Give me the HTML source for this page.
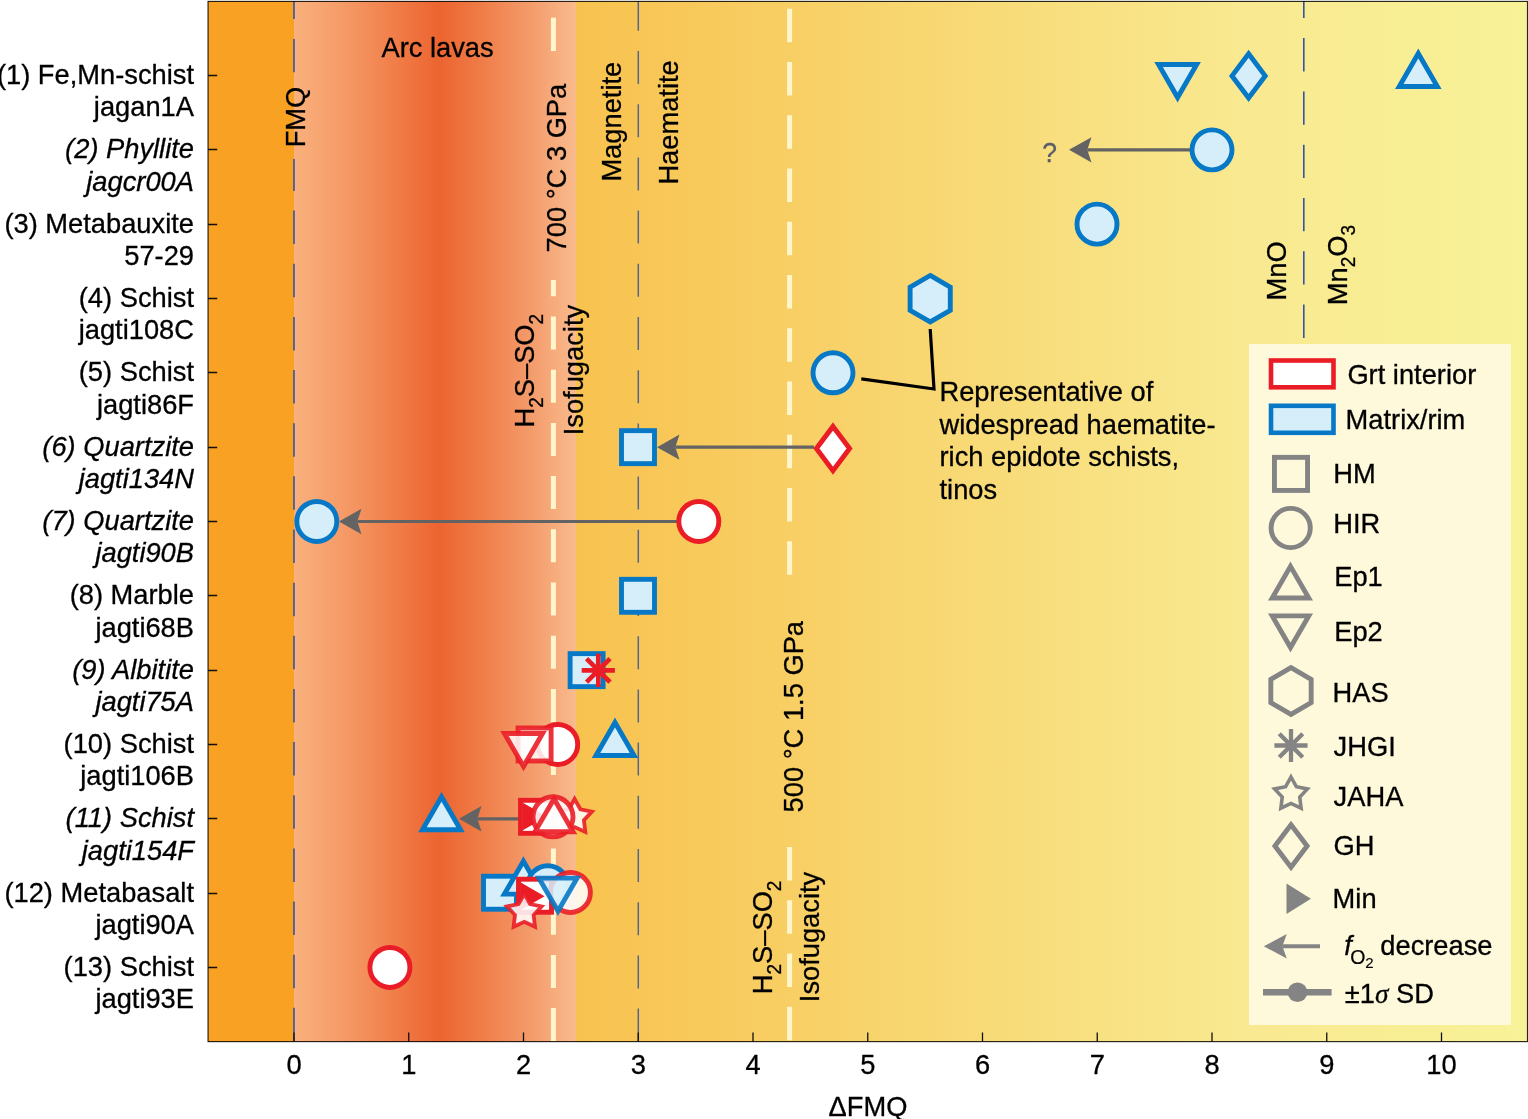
<!DOCTYPE html>
<html><head><meta charset="utf-8"><title>fO2 chart</title>
<style>html,body{margin:0;padding:0;background:#fff;}svg{display:block;}</style>
</head><body>
<svg width="1528" height="1119" viewBox="0 0 1528 1119" font-family="'Liberation Sans', Arial, Helvetica, sans-serif">
<defs>
<linearGradient id="gArc" x1="294" y1="0" x2="576" y2="0" gradientUnits="userSpaceOnUse">
<stop offset="0" stop-color="#f9b17d"/>
<stop offset="0.18" stop-color="#f59a66"/>
<stop offset="0.38" stop-color="#f07a45"/>
<stop offset="0.515" stop-color="#ec6430"/>
<stop offset="0.65" stop-color="#ef7a45"/>
<stop offset="0.85" stop-color="#f49d6d"/>
<stop offset="1" stop-color="#f9bb8d"/>
</linearGradient>
<linearGradient id="gY" x1="576" y1="0" x2="1527" y2="0" gradientUnits="userSpaceOnUse">
<stop offset="0" stop-color="#f8c24f"/>
<stop offset="0.35" stop-color="#f8d670"/>
<stop offset="0.7" stop-color="#f9e990"/>
<stop offset="1" stop-color="#f8f298"/>
</linearGradient>
</defs>
<rect width="1528" height="1119" fill="#fff"/>
<rect x="208" y="1" width="86" height="1041" fill="#f8a123"/>
<rect x="294" y="1" width="282" height="1041" fill="url(#gArc)"/>
<rect x="576" y="1" width="951.5" height="1041" fill="url(#gY)"/>
<path d="M294 1V19M294 39V72.3" stroke="#3253a8" stroke-width="1.6" fill="none"/>
<path d="M294 159V190.95M294 210.6V244.1M294 263.75V297.25M294 316.9V350.4M294 370.05V403.55M294 423.2V456.7M294 476.35V509.85M294 529.5V563M294 582.65V616.15M294 635.8V669.3M294 688.95V722.45M294 742.1V775.6M294 795.25V828.75M294 848.4V881.9M294 901.55V935.05M294 954.7V988.2M294 1007.85V1041" stroke="#3253a8" stroke-width="1.6" fill="none"/>
<path d="M638.3 1V30.8M638.3 51V84M638.3 104.2V137.2M638.3 157.4V190.4M638.3 210.6V243.6M638.3 263.8V296.8M638.3 317V350M638.3 370.2V403.2M638.3 423.4V456.4M638.3 476.6V509.6M638.3 529.8V562.8M638.3 583V616M638.3 636.2V669.2M638.3 689.4V722.4M638.3 742.6V775.6M638.3 795.8V828.8M638.3 849V882M638.3 902.2V935.2M638.3 955.4V988.4M638.3 1008.6V1041" stroke="#56658f" stroke-width="1.5" fill="none"/>
<path d="M1303.8 1V18.1M1303.8 38.1V71.4M1303.8 91.4V124.7M1303.8 144.7V178M1303.8 198V231.3M1303.8 251.3V284.6M1303.8 304.6V337.9" stroke="#3253a8" stroke-width="1.6" fill="none"/>
<path d="M553.4 17.7V51" stroke="#fff6cc" stroke-width="5" fill="none"/>
<path d="M553.4 280V296.3M553.4 316.5V349.5M553.4 369.7V402.7M553.4 422.9V455.9M553.4 476.1V509.1M553.4 529.3V562.3M553.4 582.5V615.5M553.4 635.7V668.7M553.4 688.9V721.9M553.4 742.1V775.1M553.4 795.3V828.3M553.4 848.5V881.5M553.4 901.7V934.7M553.4 954.9V987.9M553.4 1008.1V1041" stroke="#fff6cc" stroke-width="5" fill="none"/>
<path d="M789.6 8.8V42.3M789.6 62.05V95.55M789.6 115.3V148.8M789.6 168.55V202.05M789.6 221.8V255.3M789.6 275.05V308.55M789.6 328.3V361.8M789.6 381.55V415.05M789.6 434.8V468.3M789.6 488.05V521.55M789.6 541.3V574.8" stroke="#fff6cc" stroke-width="5" fill="none"/>
<path d="M789.6 846.9V880.4M789.6 900.15V933.65M789.6 953.4V986.9M789.6 1006.65V1040.15" stroke="#fff6cc" stroke-width="5" fill="none"/>
<text x="305" y="147.3" font-size="27.3" text-anchor="start" transform="rotate(-90 305 147.3) translate(305 147.3) scale(1 1.035) translate(-305 -147.3)" fill="#000" stroke="#000" stroke-width="0.3">FMQ</text>
<text x="565.9" y="252.4" font-size="27.3" text-anchor="start" transform="rotate(-90 565.9 252.4) translate(565.9 252.4) scale(1 1.035) translate(-565.9 -252.4)" fill="#000" stroke="#000" stroke-width="0.3">700 °C 3 GPa</text>
<text x="621" y="181.6" font-size="27.3" text-anchor="start" transform="rotate(-90 621 181.6) translate(621 181.6) scale(1 1.035) translate(-621 -181.6)" fill="#000" stroke="#000" stroke-width="0.3">Magnetite</text>
<text x="678" y="184.6" font-size="27.3" text-anchor="start" transform="rotate(-90 678 184.6) translate(678 184.6) scale(1 1.035) translate(-678 -184.6)" fill="#000" stroke="#000" stroke-width="0.3">Haematite</text>
<text x="1286" y="300.5" font-size="27.3" text-anchor="start" transform="rotate(-90 1286 300.5) translate(1286 300.5) scale(1 1.035) translate(-1286 -300.5)" fill="#000" stroke="#000" stroke-width="0.3">MnO</text>
<text x="1346.8" y="305.2" font-size="27.3" text-anchor="start" transform="rotate(-90 1346.8 305.2) translate(1346.8 305.2) scale(1 1.035) translate(-1346.8 -305.2)" fill="#000" stroke="#000" stroke-width="0.3">Mn<tspan font-size="19" dy="8">2</tspan><tspan dy="-8">O</tspan><tspan font-size="19" dy="8">3</tspan></text>
<text x="534.3" y="427.5" font-size="27.3" text-anchor="start" transform="rotate(-90 534.3 427.5) translate(534.3 427.5) scale(1 1.035) translate(-534.3 -427.5)" fill="#000" stroke="#000" stroke-width="0.3">H<tspan font-size="19" dy="8">2</tspan><tspan dy="-8">S–SO</tspan><tspan font-size="19" dy="8">2</tspan></text>
<text x="582.7" y="435.3" font-size="27.3" text-anchor="start" transform="rotate(-90 582.7 435.3) translate(582.7 435.3) scale(1 1.035) translate(-582.7 -435.3)" fill="#000" stroke="#000" stroke-width="0.3">Isofugacity</text>
<text x="803.2" y="812.4" font-size="27.3" text-anchor="start" transform="rotate(-90 803.2 812.4) translate(803.2 812.4) scale(1 1.035) translate(-803.2 -812.4)" fill="#000" stroke="#000" stroke-width="0.3">500 °C 1.5 GPa</text>
<text x="772.3" y="994.2" font-size="27.3" text-anchor="start" transform="rotate(-90 772.3 994.2) translate(772.3 994.2) scale(1 1.035) translate(-772.3 -994.2)" fill="#000" stroke="#000" stroke-width="0.3">H<tspan font-size="19" dy="8">2</tspan><tspan dy="-8">S–SO</tspan><tspan font-size="19" dy="8">2</tspan></text>
<text x="819.2" y="1002.2" font-size="27.3" text-anchor="start" transform="rotate(-90 819.2 1002.2) translate(819.2 1002.2) scale(1 1.035) translate(-819.2 -1002.2)" fill="#000" stroke="#000" stroke-width="0.3">Isofugacity</text>
<text x="381.5" y="57.5" font-size="27.3" text-anchor="start" transform="translate(381.5 57.5) scale(1 1.035) translate(-381.5 -57.5)" fill="#000" stroke="#000" stroke-width="0.3">Arc lavas</text>
<polyline points="861.3,378.8 934,389 930.2,329" fill="none" stroke="#000" stroke-width="3.2" stroke-linejoin="miter"/>
<text x="939.5" y="401.5" font-size="27.3" text-anchor="start" transform="translate(939.5 401.5) scale(1 1.035) translate(-939.5 -401.5)" fill="#000" stroke="#000" stroke-width="0.3">Representative of</text>
<text x="939.5" y="433.9" font-size="27.3" text-anchor="start" transform="translate(939.5 433.9) scale(1 1.035) translate(-939.5 -433.9)" fill="#000" stroke="#000" stroke-width="0.3">widespread haematite-</text>
<text x="939.5" y="466.3" font-size="27.3" text-anchor="start" transform="translate(939.5 466.3) scale(1 1.035) translate(-939.5 -466.3)" fill="#000" stroke="#000" stroke-width="0.3">rich epidote schists,</text>
<text x="939.5" y="498.7" font-size="27.3" text-anchor="start" transform="translate(939.5 498.7) scale(1 1.035) translate(-939.5 -498.7)" fill="#000" stroke="#000" stroke-width="0.3">tinos</text>
<polygon points="1177.6,97.5 1196.65,64.5 1158.55,64.5" fill="#d5eefa" stroke="#0678c6" stroke-width="4.9" stroke-linejoin="miter" stroke-miterlimit="10"/>
<polygon points="1248.6,53.8 1265.2,75.9 1248.6,98 1232,75.9" fill="#d5eefa" stroke="#0678c6" stroke-width="4.9" stroke-linejoin="miter" stroke-miterlimit="10"/>
<polygon points="1418.3,53.5 1437.35,86.5 1399.25,86.5" fill="#d5eefa" stroke="#0678c6" stroke-width="4.9" stroke-linejoin="miter" stroke-miterlimit="10"/>
<line x1="1190" y1="149.83" x2="1087.3" y2="149.83" stroke="#636363" stroke-width="3.2"/>
<polygon points="1069,149.83 1091.5,137.13 1087.3,149.83 1091.5,162.53" fill="#636363"/>
<text x="1049.6" y="161.8" font-size="26.5" text-anchor="middle" transform="translate(1049.6 161.8) scale(1 1.035) translate(-1049.6 -161.8)" fill="#585c66" stroke="#585c66" stroke-width="0.29">?</text>
<circle cx="1212" cy="149.83" r="20" fill="#d5eefa" stroke="#0678c6" stroke-width="4.9" stroke-linejoin="miter" stroke-miterlimit="10"/>
<circle cx="1097" cy="224.16" r="20" fill="#d5eefa" stroke="#0678c6" stroke-width="4.9" stroke-linejoin="miter" stroke-miterlimit="10"/>
<polygon points="930.2,275.49 950.29,287.09 950.29,310.29 930.2,321.89 910.11,310.29 910.11,287.09" fill="#d5eefa" stroke="#0678c6" stroke-width="4.9" stroke-linejoin="miter" stroke-miterlimit="10"/>
<circle cx="833" cy="372.82" r="20" fill="#d5eefa" stroke="#0678c6" stroke-width="4.9" stroke-linejoin="miter" stroke-miterlimit="10"/>
<line x1="814" y1="447.15" x2="675.3" y2="447.15" stroke="#636363" stroke-width="3.2"/>
<polygon points="657,447.15 679.5,434.45 675.3,447.15 679.5,459.85" fill="#636363"/>
<rect x="621.5" y="430.65" width="33" height="33" fill="#d5eefa" stroke="#0678c6" stroke-width="4.9" stroke-linejoin="miter" stroke-miterlimit="10"/>
<polygon points="833,426.45 849.6,448.55 833,470.65 816.4,448.55" fill="#ffffff" stroke="#ea1d26" stroke-width="4.9" stroke-linejoin="miter" stroke-miterlimit="10"/>
<line x1="677" y1="521.48" x2="357.3" y2="521.48" stroke="#636363" stroke-width="3.2"/>
<polygon points="339,521.48 361.5,508.78 357.3,521.48 361.5,534.18" fill="#636363"/>
<circle cx="316.8" cy="521.48" r="20" fill="#d5eefa" stroke="#0678c6" stroke-width="4.9" stroke-linejoin="miter" stroke-miterlimit="10"/>
<circle cx="698.8" cy="521.48" r="20" fill="#ffffff" stroke="#ea1d26" stroke-width="4.9" stroke-linejoin="miter" stroke-miterlimit="10"/>
<rect x="621.5" y="579.31" width="33" height="33" fill="#d5eefa" stroke="#0678c6" stroke-width="4.9" stroke-linejoin="miter" stroke-miterlimit="10"/>
<rect x="570.1" y="653.64" width="33" height="33" fill="#d5eefa" stroke="#0678c6" stroke-width="4.9" stroke-linejoin="miter" stroke-miterlimit="10"/>
<path d="M581.7 670.34L614.9 670.34M586.56 658.6L610.04 682.08M598.3 653.74L598.3 686.94M610.04 658.6L586.56 682.08" stroke="#ea1d26" stroke-width="4.7" fill="none"/>
<circle cx="557.7" cy="744.47" r="20" fill="#ffffff" stroke="#ea1d26" stroke-width="4.9" stroke-linejoin="miter" stroke-miterlimit="10"/>
<rect x="518.1" y="727.97" width="33" height="33" fill="#ffffff" stroke="#ea1d26" stroke-width="4.9" stroke-linejoin="miter" stroke-miterlimit="10" fill-opacity="0.86" stroke-opacity="0.9"/>
<polygon points="523.5,766.47 542.55,733.47 504.45,733.47" fill="#ffffff" stroke="#ea1d26" stroke-width="4.9" stroke-linejoin="miter" stroke-miterlimit="10" fill-opacity="0.86" stroke-opacity="0.9"/>
<polygon points="615,722.47 634.05,755.47 595.95,755.47" fill="#d5eefa" stroke="#0678c6" stroke-width="4.9" stroke-linejoin="miter" stroke-miterlimit="10"/>
<line x1="518" y1="818.8" x2="477.3" y2="818.8" stroke="#636363" stroke-width="3.2"/>
<polygon points="459,818.8 481.5,806.1 477.3,818.8 481.5,831.5" fill="#636363"/>
<polygon points="441.5,796.8 460.55,829.8 422.45,829.8" fill="#d5eefa" stroke="#0678c6" stroke-width="4.9" stroke-linejoin="miter" stroke-miterlimit="10"/>
<rect x="520.5" y="800.3" width="33" height="33" fill="#ffffff" stroke="#ea1d26" stroke-width="4.9" stroke-linejoin="miter" stroke-miterlimit="10"/>
<polygon points="522.9,802.85 546.72,816.6 522.9,830.35" fill="#ea1d26"/>
<polygon points="574.6,799 580.36,809.27 591.91,811.58 583.92,820.23 585.3,831.92 574.6,827 563.9,831.92 565.28,820.23 557.29,811.58 568.84,809.27" fill="#ffffff" stroke="#ea1d26" stroke-width="3.8" stroke-linejoin="miter" stroke-miterlimit="10" fill-opacity="0.86" stroke-opacity="0.9"/>
<circle cx="553" cy="816.8" r="20" fill="#ffffff" stroke="#ea1d26" stroke-width="4.9" stroke-linejoin="miter" stroke-miterlimit="10" fill-opacity="0.86" stroke-opacity="0.9"/>
<polygon points="554,798.8 573.05,831.8 534.95,831.8" fill="#ffffff" stroke="#ea1d26" stroke-width="4.9" stroke-linejoin="miter" stroke-miterlimit="10" fill-opacity="0.86" stroke-opacity="0.9"/>
<rect x="483.5" y="876.23" width="33" height="33" fill="#d5eefa" stroke="#0678c6" stroke-width="4.9" stroke-linejoin="miter" stroke-miterlimit="10"/>
<polygon points="523.4,861.13 542.45,894.13 504.35,894.13" fill="#d5eefa" stroke="#0678c6" stroke-width="4.9" stroke-linejoin="miter" stroke-miterlimit="10"/>
<circle cx="547.8" cy="885.73" r="20" fill="#d5eefa" stroke="#0678c6" stroke-width="4.9" stroke-linejoin="miter" stroke-miterlimit="10"/>
<rect x="518.5" y="879.23" width="33" height="33" fill="#ffffff" stroke="#ea1d26" stroke-width="4.9" stroke-linejoin="miter" stroke-miterlimit="10"/>
<polygon points="520.8,882.38 544.62,896.13 520.8,909.88" fill="#ea1d26"/>
<polygon points="524.3,893.83 530.06,904.1 541.61,906.41 533.62,915.06 535,926.75 524.3,921.83 513.6,926.75 514.98,915.06 506.99,906.41 518.54,904.1" fill="#ffffff" stroke="#ea1d26" stroke-width="3.8" stroke-linejoin="miter" stroke-miterlimit="10" fill-opacity="0.86" stroke-opacity="0.9"/>
<circle cx="570.4" cy="892.43" r="20" fill="#ffffff" stroke="#ea1d26" stroke-width="4.9" stroke-linejoin="miter" stroke-miterlimit="10" fill-opacity="0.86" stroke-opacity="0.9"/>
<polygon points="558,911.13 577.05,878.13 538.95,878.13" fill="#d5eefa" stroke="#0678c6" stroke-width="4.9" stroke-linejoin="miter" stroke-miterlimit="10" fill-opacity="0.86" stroke-opacity="0.9"/>
<circle cx="389.9" cy="967.46" r="20" fill="#ffffff" stroke="#ea1d26" stroke-width="4.9" stroke-linejoin="miter" stroke-miterlimit="10"/>
<rect x="1249" y="344" width="262" height="681" fill="#fef9db"/>
<rect x="1271" y="360.5" width="62.5" height="26.8" fill="#fff" stroke="#ea1d26" stroke-width="4.6"/>
<rect x="1271" y="405.8" width="62.5" height="27" fill="#d5eefa" stroke="#0678c6" stroke-width="4.6"/>
<text x="1347.4" y="383.6" font-size="27.3" text-anchor="start" transform="translate(1347.4 383.6) scale(1 1.035) translate(-1347.4 -383.6)" fill="#000" stroke="#000" stroke-width="0.3">Grt interior</text>
<text x="1345.6" y="428.6" font-size="27.3" text-anchor="start" transform="translate(1345.6 428.6) scale(1 1.035) translate(-1345.6 -428.6)" fill="#000" stroke="#000" stroke-width="0.3">Matrix/rim</text>
<rect x="1274.45" y="457.35" width="33.1" height="33.1" fill="none" stroke="#848484" stroke-width="4.9" stroke-linejoin="miter" stroke-miterlimit="10"/>
<circle cx="1290.7" cy="528" r="19.6" fill="none" stroke="#848484" stroke-width="4.9" stroke-linejoin="miter" stroke-miterlimit="10"/>
<polygon points="1290.5,566.4 1308.77,598.05 1272.23,598.05" fill="none" stroke="#848484" stroke-width="4.9" stroke-linejoin="miter" stroke-miterlimit="10"/>
<polygon points="1290.5,647.5 1308.77,615.85 1272.23,615.85" fill="none" stroke="#848484" stroke-width="4.9" stroke-linejoin="miter" stroke-miterlimit="10"/>
<polygon points="1291,667.7 1311.18,679.35 1311.18,702.65 1291,714.3 1270.82,702.65 1270.82,679.35" fill="none" stroke="#848484" stroke-width="4.9" stroke-linejoin="miter" stroke-miterlimit="10"/>
<path d="M1274.4 745.5L1307.6 745.5M1279.26 733.76L1302.74 757.24M1291 728.9L1291 762.1M1302.74 733.76L1279.26 757.24" stroke="#848484" stroke-width="4.3" fill="none"/>
<polygon points="1291,777 1296.41,786.76 1307.36,788.88 1299.75,797.04 1301.11,808.12 1291,803.4 1280.89,808.12 1282.25,797.04 1274.64,788.88 1285.59,786.76" fill="none" stroke="#848484" stroke-width="3.6" stroke-linejoin="miter" stroke-miterlimit="10"/>
<polygon points="1291,824.7 1307.1,846 1291,867.3 1274.9,846" fill="none" stroke="#848484" stroke-width="4.9" stroke-linejoin="miter" stroke-miterlimit="10"/>
<polygon points="1286.5,883.5 1310.9,898.7 1286.5,913.9" fill="#848484"/>
<line x1="1320" y1="946.3" x2="1282.4" y2="946.3" stroke="#848484" stroke-width="4"/>
<polygon points="1263.8,946.3 1286.8,934.1 1282.4,946.3 1286.8,958.5" fill="#848484"/>
<line x1="1263" y1="992.2" x2="1331.6" y2="992.2" stroke="#848484" stroke-width="6.4"/>
<circle cx="1297.5" cy="992.2" r="9.8" fill="#848484"/>
<text x="1333.2" y="482.7" font-size="27.3" text-anchor="start" transform="translate(1333.2 482.7) scale(1 1.035) translate(-1333.2 -482.7)" fill="#000" stroke="#000" stroke-width="0.3">HM</text>
<text x="1333.2" y="532.7" font-size="27.3" text-anchor="start" transform="translate(1333.2 532.7) scale(1 1.035) translate(-1333.2 -532.7)" fill="#000" stroke="#000" stroke-width="0.3">HIR</text>
<text x="1334.2" y="586.3" font-size="27.3" text-anchor="start" transform="translate(1334.2 586.3) scale(1 1.035) translate(-1334.2 -586.3)" fill="#000" stroke="#000" stroke-width="0.3">Ep1</text>
<text x="1334.2" y="640.9" font-size="27.3" text-anchor="start" transform="translate(1334.2 640.9) scale(1 1.035) translate(-1334.2 -640.9)" fill="#000" stroke="#000" stroke-width="0.3">Ep2</text>
<text x="1332.6" y="701.6" font-size="27.3" text-anchor="start" transform="translate(1332.6 701.6) scale(1 1.035) translate(-1332.6 -701.6)" fill="#000" stroke="#000" stroke-width="0.3">HAS</text>
<text x="1333.6" y="756.3" font-size="27.3" text-anchor="start" transform="translate(1333.6 756.3) scale(1 1.035) translate(-1333.6 -756.3)" fill="#000" stroke="#000" stroke-width="0.3">JHGI</text>
<text x="1333.6" y="805.8" font-size="27.3" text-anchor="start" transform="translate(1333.6 805.8) scale(1 1.035) translate(-1333.6 -805.8)" fill="#000" stroke="#000" stroke-width="0.3">JAHA</text>
<text x="1333.6" y="855" font-size="27.3" text-anchor="start" transform="translate(1333.6 855) scale(1 1.035) translate(-1333.6 -855)" fill="#000" stroke="#000" stroke-width="0.3">GH</text>
<text x="1332.6" y="907.9" font-size="27.3" text-anchor="start" transform="translate(1332.6 907.9) scale(1 1.035) translate(-1332.6 -907.9)" fill="#000" stroke="#000" stroke-width="0.3">Min</text>
<text x="1344.2" y="954.7" font-size="27.3" text-anchor="start" font-style="italic" transform="translate(1344.2 954.7) scale(1 1.035) translate(-1344.2 -954.7)" fill="#000" stroke="#000" stroke-width="0.3">f</text>
<text x="1350.3" y="963.6" font-size="19.5" text-anchor="start" transform="translate(1350.3 963.6) scale(1 1.035) translate(-1350.3 -963.6)" fill="#000" stroke="#000" stroke-width="0.21">O</text>
<text x="1365.2" y="967.9" font-size="15" text-anchor="start" transform="translate(1365.2 967.9) scale(1 1.035) translate(-1365.2 -967.9)" fill="#000" stroke="#000" stroke-width="0.16">2</text>
<text x="1380.3" y="954.7" font-size="27.3" text-anchor="start" transform="translate(1380.3 954.7) scale(1 1.035) translate(-1380.3 -954.7)" fill="#000" stroke="#000" stroke-width="0.3">decrease</text>
<text x="1344.8" y="1002.6" font-size="27.3" text-anchor="start" transform="translate(1344.8 1002.6) scale(1 1.035) translate(-1344.8 -1002.6)" fill="#000" stroke="#000" stroke-width="0.3">±1<tspan font-family="'Liberation Serif', serif" font-style="italic">σ</tspan> SD</text>
<rect x="208.05" y="1.4" width="1319.45" height="1040.2" fill="none" stroke="#000" stroke-opacity="0.85" stroke-width="1.15"/>
<path d="M208 75.5H217.2M208 149.5H217.2M208 224.5H217.2M208 298.5H217.2M208 372.5H217.2M208 447.5H217.2M208 521.5H217.2M208 595.5H217.2M208 670.5H217.2M208 744.5H217.2M208 818.5H217.2M208 893.5H217.2M208 967.5H217.2M294 1032.5V1042M408.75 1032.5V1042M523.5 1032.5V1042M638.25 1032.5V1042M753 1032.5V1042M867.75 1032.5V1042M982.5 1032.5V1042M1097.25 1032.5V1042M1212 1032.5V1042M1326.75 1032.5V1042M1441.5 1032.5V1042" stroke="#111" stroke-width="1.3" fill="none"/>
<text x="294" y="1074.4" font-size="27.3" text-anchor="middle" transform="translate(294 1074.4) scale(1 1.035) translate(-294 -1074.4)" fill="#000" stroke="#000" stroke-width="0.3">0</text>
<text x="408.75" y="1074.4" font-size="27.3" text-anchor="middle" transform="translate(408.75 1074.4) scale(1 1.035) translate(-408.75 -1074.4)" fill="#000" stroke="#000" stroke-width="0.3">1</text>
<text x="523.5" y="1074.4" font-size="27.3" text-anchor="middle" transform="translate(523.5 1074.4) scale(1 1.035) translate(-523.5 -1074.4)" fill="#000" stroke="#000" stroke-width="0.3">2</text>
<text x="638.25" y="1074.4" font-size="27.3" text-anchor="middle" transform="translate(638.25 1074.4) scale(1 1.035) translate(-638.25 -1074.4)" fill="#000" stroke="#000" stroke-width="0.3">3</text>
<text x="753" y="1074.4" font-size="27.3" text-anchor="middle" transform="translate(753 1074.4) scale(1 1.035) translate(-753 -1074.4)" fill="#000" stroke="#000" stroke-width="0.3">4</text>
<text x="867.75" y="1074.4" font-size="27.3" text-anchor="middle" transform="translate(867.75 1074.4) scale(1 1.035) translate(-867.75 -1074.4)" fill="#000" stroke="#000" stroke-width="0.3">5</text>
<text x="982.5" y="1074.4" font-size="27.3" text-anchor="middle" transform="translate(982.5 1074.4) scale(1 1.035) translate(-982.5 -1074.4)" fill="#000" stroke="#000" stroke-width="0.3">6</text>
<text x="1097.25" y="1074.4" font-size="27.3" text-anchor="middle" transform="translate(1097.25 1074.4) scale(1 1.035) translate(-1097.25 -1074.4)" fill="#000" stroke="#000" stroke-width="0.3">7</text>
<text x="1212" y="1074.4" font-size="27.3" text-anchor="middle" transform="translate(1212 1074.4) scale(1 1.035) translate(-1212 -1074.4)" fill="#000" stroke="#000" stroke-width="0.3">8</text>
<text x="1326.75" y="1074.4" font-size="27.3" text-anchor="middle" transform="translate(1326.75 1074.4) scale(1 1.035) translate(-1326.75 -1074.4)" fill="#000" stroke="#000" stroke-width="0.3">9</text>
<text x="1441.5" y="1074.4" font-size="27.3" text-anchor="middle" transform="translate(1441.5 1074.4) scale(1 1.035) translate(-1441.5 -1074.4)" fill="#000" stroke="#000" stroke-width="0.3">10</text>
<text x="868" y="1116.5" font-size="27.3" text-anchor="middle" transform="translate(868 1116.5) scale(1 1.035) translate(-868 -1116.5)" fill="#000" stroke="#000" stroke-width="0.3">ΔFMQ</text>
<text x="194" y="84" font-size="27.3" text-anchor="end" transform="translate(194 84) scale(1 1.035) translate(-194 -84)" fill="#000" stroke="#000" stroke-width="0.3">(1) Fe,Mn-schist</text>
<text x="194" y="116.5" font-size="27.3" text-anchor="end" transform="translate(194 116.5) scale(1 1.035) translate(-194 -116.5)" fill="#000" stroke="#000" stroke-width="0.3">jagan1A</text>
<text x="194" y="158.33" font-size="27.3" text-anchor="end" font-style="italic" transform="translate(194 158.33) scale(1 1.035) translate(-194 -158.33)" fill="#000" stroke="#000" stroke-width="0.3">(2) Phyllite</text>
<text x="194" y="190.83" font-size="27.3" text-anchor="end" font-style="italic" transform="translate(194 190.83) scale(1 1.035) translate(-194 -190.83)" fill="#000" stroke="#000" stroke-width="0.3">jagcr00A</text>
<text x="194" y="232.66" font-size="27.3" text-anchor="end" transform="translate(194 232.66) scale(1 1.035) translate(-194 -232.66)" fill="#000" stroke="#000" stroke-width="0.3">(3) Metabauxite</text>
<text x="194" y="265.16" font-size="27.3" text-anchor="end" transform="translate(194 265.16) scale(1 1.035) translate(-194 -265.16)" fill="#000" stroke="#000" stroke-width="0.3">57-29</text>
<text x="194" y="306.99" font-size="27.3" text-anchor="end" transform="translate(194 306.99) scale(1 1.035) translate(-194 -306.99)" fill="#000" stroke="#000" stroke-width="0.3">(4) Schist</text>
<text x="194" y="339.49" font-size="27.3" text-anchor="end" transform="translate(194 339.49) scale(1 1.035) translate(-194 -339.49)" fill="#000" stroke="#000" stroke-width="0.3">jagti108C</text>
<text x="194" y="381.32" font-size="27.3" text-anchor="end" transform="translate(194 381.32) scale(1 1.035) translate(-194 -381.32)" fill="#000" stroke="#000" stroke-width="0.3">(5) Schist</text>
<text x="194" y="413.82" font-size="27.3" text-anchor="end" transform="translate(194 413.82) scale(1 1.035) translate(-194 -413.82)" fill="#000" stroke="#000" stroke-width="0.3">jagti86F</text>
<text x="194" y="455.65" font-size="27.3" text-anchor="end" font-style="italic" transform="translate(194 455.65) scale(1 1.035) translate(-194 -455.65)" fill="#000" stroke="#000" stroke-width="0.3">(6) Quartzite</text>
<text x="194" y="488.15" font-size="27.3" text-anchor="end" font-style="italic" transform="translate(194 488.15) scale(1 1.035) translate(-194 -488.15)" fill="#000" stroke="#000" stroke-width="0.3">jagti134N</text>
<text x="194" y="529.98" font-size="27.3" text-anchor="end" font-style="italic" transform="translate(194 529.98) scale(1 1.035) translate(-194 -529.98)" fill="#000" stroke="#000" stroke-width="0.3">(7) Quartzite</text>
<text x="194" y="562.48" font-size="27.3" text-anchor="end" font-style="italic" transform="translate(194 562.48) scale(1 1.035) translate(-194 -562.48)" fill="#000" stroke="#000" stroke-width="0.3">jagti90B</text>
<text x="194" y="604.31" font-size="27.3" text-anchor="end" transform="translate(194 604.31) scale(1 1.035) translate(-194 -604.31)" fill="#000" stroke="#000" stroke-width="0.3">(8) Marble</text>
<text x="194" y="636.81" font-size="27.3" text-anchor="end" transform="translate(194 636.81) scale(1 1.035) translate(-194 -636.81)" fill="#000" stroke="#000" stroke-width="0.3">jagti68B</text>
<text x="194" y="678.64" font-size="27.3" text-anchor="end" font-style="italic" transform="translate(194 678.64) scale(1 1.035) translate(-194 -678.64)" fill="#000" stroke="#000" stroke-width="0.3">(9) Albitite</text>
<text x="194" y="711.14" font-size="27.3" text-anchor="end" font-style="italic" transform="translate(194 711.14) scale(1 1.035) translate(-194 -711.14)" fill="#000" stroke="#000" stroke-width="0.3">jagti75A</text>
<text x="194" y="752.97" font-size="27.3" text-anchor="end" transform="translate(194 752.97) scale(1 1.035) translate(-194 -752.97)" fill="#000" stroke="#000" stroke-width="0.3">(10) Schist</text>
<text x="194" y="785.47" font-size="27.3" text-anchor="end" transform="translate(194 785.47) scale(1 1.035) translate(-194 -785.47)" fill="#000" stroke="#000" stroke-width="0.3">jagti106B</text>
<text x="194" y="827.3" font-size="27.3" text-anchor="end" font-style="italic" transform="translate(194 827.3) scale(1 1.035) translate(-194 -827.3)" fill="#000" stroke="#000" stroke-width="0.3">(11) Schist</text>
<text x="194" y="859.8" font-size="27.3" text-anchor="end" font-style="italic" transform="translate(194 859.8) scale(1 1.035) translate(-194 -859.8)" fill="#000" stroke="#000" stroke-width="0.3">jagti154F</text>
<text x="194" y="901.63" font-size="27.3" text-anchor="end" transform="translate(194 901.63) scale(1 1.035) translate(-194 -901.63)" fill="#000" stroke="#000" stroke-width="0.3">(12) Metabasalt</text>
<text x="194" y="934.13" font-size="27.3" text-anchor="end" transform="translate(194 934.13) scale(1 1.035) translate(-194 -934.13)" fill="#000" stroke="#000" stroke-width="0.3">jagti90A</text>
<text x="194" y="975.96" font-size="27.3" text-anchor="end" transform="translate(194 975.96) scale(1 1.035) translate(-194 -975.96)" fill="#000" stroke="#000" stroke-width="0.3">(13) Schist</text>
<text x="194" y="1008.46" font-size="27.3" text-anchor="end" transform="translate(194 1008.46) scale(1 1.035) translate(-194 -1008.46)" fill="#000" stroke="#000" stroke-width="0.3">jagti93E</text>
</svg>
</body></html>
